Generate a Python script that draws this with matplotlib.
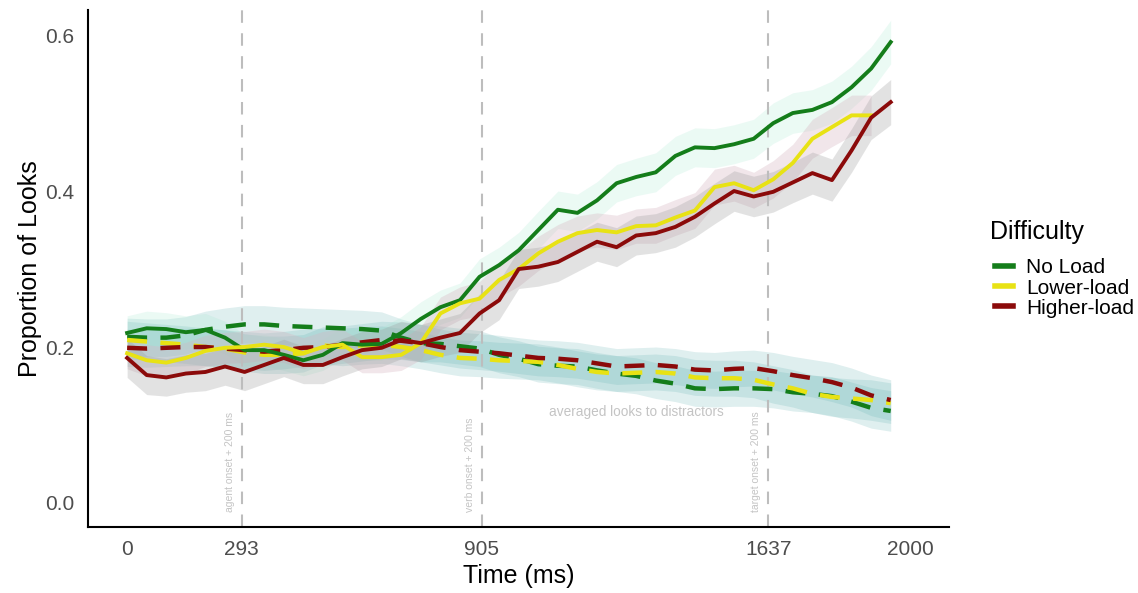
import numpy as np
import matplotlib
matplotlib.use("Agg")
import matplotlib.pyplot as plt
from matplotlib.lines import Line2D

plt.rcParams['font.family'] = ['Liberation Sans', 'DejaVu Sans']

# time bins (ms)
time = np.arange(0, 2000, 50)

# looks to target, per difficulty
target_noload = [0.218, 0.224, 0.223, 0.219, 0.222, 0.212, 0.196, 0.196, 0.190, 0.183,
                 0.190, 0.205, 0.203, 0.204, 0.218, 0.236, 0.251, 0.260, 0.290, 0.305,
                 0.324, 0.350, 0.376, 0.372, 0.388, 0.410, 0.418, 0.424, 0.445, 0.456,
                 0.455, 0.460, 0.467, 0.487, 0.500, 0.504, 0.514, 0.533, 0.557, 0.591]
target_lower = [0.192, 0.183, 0.180, 0.186, 0.195, 0.199, 0.200, 0.203, 0.200, 0.192,
                0.200, 0.203, 0.187, 0.187, 0.190, 0.205, 0.243, 0.256, 0.262, 0.286,
                0.300, 0.320, 0.335, 0.346, 0.350, 0.347, 0.355, 0.356, 0.366, 0.375,
                0.405, 0.410, 0.401, 0.415, 0.436, 0.467, 0.482, 0.497, 0.497, np.nan]
target_higher = [0.186, 0.164, 0.161, 0.166, 0.168, 0.175, 0.168, 0.177, 0.186, 0.177,
                 0.177, 0.187, 0.196, 0.199, 0.209, 0.205, 0.212, 0.218, 0.243, 0.260,
                 0.300, 0.303, 0.309, 0.322, 0.335, 0.328, 0.343, 0.346, 0.354, 0.367,
                 0.384, 0.400, 0.393, 0.399, 0.411, 0.423, 0.414, 0.452, 0.494, 0.514]

# averaged looks to distractors
distr_noload = [0.213, 0.212, 0.212, 0.215, 0.222, 0.226, 0.229, 0.229, 0.227, 0.226,
                0.225, 0.224, 0.223, 0.221, 0.212, 0.205, 0.204, 0.201, 0.198, 0.190,
                0.185, 0.178, 0.176, 0.175, 0.170, 0.166, 0.163, 0.157, 0.153, 0.147,
                0.146, 0.147, 0.147, 0.146, 0.142, 0.140, 0.137, 0.130, 0.122, 0.118]
distr_lower = [0.209, 0.207, 0.205, 0.203, 0.200, 0.198, 0.193, 0.190, 0.190, 0.192,
               0.202, 0.200, 0.202, 0.203, 0.200, 0.196, 0.190, 0.186, 0.185, 0.183,
               0.182, 0.181, 0.177, 0.172, 0.168, 0.166, 0.167, 0.168, 0.166, 0.161,
               0.160, 0.160, 0.158, 0.152, 0.147, 0.140, 0.136, 0.134, 0.132, 0.128]
distr_higher = [0.199, 0.198, 0.199, 0.200, 0.200, 0.198, 0.196, 0.194, 0.196, 0.199,
                0.200, 0.203, 0.206, 0.209, 0.208, 0.205, 0.200, 0.196, 0.194, 0.192,
                0.189, 0.186, 0.185, 0.183, 0.179, 0.175, 0.176, 0.177, 0.175, 0.171,
                0.170, 0.172, 0.173, 0.169, 0.164, 0.160, 0.155, 0.148, 0.138, 0.132]

# standard errors (ribbon half widths)
se_target_noload = [0.022, 0.022, 0.021, 0.021, 0.021, 0.021, 0.020, 0.020, 0.020, 0.020,
                    0.020, 0.020, 0.020, 0.021, 0.021, 0.022, 0.022, 0.022, 0.023, 0.023,
                    0.023, 0.024, 0.024, 0.024, 0.024, 0.024, 0.024, 0.025, 0.025, 0.025,
                    0.025, 0.025, 0.025, 0.026, 0.026, 0.026, 0.027, 0.027, 0.028, 0.028]
se_target_lower = [0.020, 0.020, 0.020, 0.020, 0.020, 0.020, 0.020, 0.020, 0.020, 0.020,
                   0.020, 0.020, 0.020, 0.020, 0.020, 0.021, 0.021, 0.021, 0.022, 0.022,
                   0.022, 0.022, 0.022, 0.022, 0.022, 0.022, 0.022, 0.023, 0.023, 0.023,
                   0.023, 0.023, 0.023, 0.024, 0.024, 0.025, 0.025, 0.026, 0.026, np.nan]
se_target_higher = [0.025, 0.025, 0.024, 0.024, 0.024, 0.024, 0.024, 0.024, 0.024, 0.024,
                    0.024, 0.024, 0.024, 0.024, 0.024, 0.024, 0.024, 0.025, 0.025, 0.025,
                    0.025, 0.025, 0.025, 0.025, 0.025, 0.025, 0.025, 0.025, 0.026, 0.026,
                    0.026, 0.026, 0.026, 0.026, 0.026, 0.027, 0.027, 0.028, 0.028, 0.029]
se_distr = [0.024, 0.024, 0.024, 0.024, 0.024, 0.024, 0.024, 0.024, 0.024, 0.024,
            0.024, 0.024, 0.024, 0.024, 0.024, 0.024, 0.023, 0.023, 0.023, 0.023,
            0.023, 0.023, 0.023, 0.023, 0.023, 0.023, 0.023, 0.023, 0.023, 0.023,
            0.023, 0.023, 0.023, 0.024, 0.024, 0.024, 0.025, 0.025, 0.026, 0.026]

labels = ['No Load', 'Lower-load', 'Higher-load']
colors = ['#147d1a', '#e8e214', '#8b0a0a']
ribbon_colors = ['#9fe6cc', '#d6b4c0', '#9a9a9a']
ribbon_alpha = [0.2, 0.33, 0.28]

onsets = [293, 905, 1637]
onset_labels = ['agent onset + 200 ms', 'verb onset + 200 ms', 'target onset + 200 ms']
xticks = [0, 293, 905, 1637, 2000]

targets = [target_noload, target_lower, target_higher]
target_se = [se_target_noload, se_target_lower, se_target_higher]
distractors = [distr_noload, distr_lower, distr_higher]

############################
fig = plt.figure(figsize=(11.38, 5.93), dpi=100)
ax = fig.add_axes([0.0773, 0.111, 0.757, 0.872])

# distractor ribbons
for d in distractors:
    d = np.array(d)
    ax.fill_between(time, d - np.array(se_distr), d + np.array(se_distr),
                    color='#5fb0b0', alpha=0.2, linewidth=0)

# target ribbons
for t, se, rc, ra in zip(targets, target_se, ribbon_colors, ribbon_alpha):
    t = np.array(t)
    se = np.array(se)
    ax.fill_between(time, t - se, t + se, color=rc, alpha=ra, linewidth=0)

# onset markers
for x, lab in zip(onsets, onset_labels):
    ax.axvline(x, color='#bdbdbd', linewidth=1.5, linestyle=(0, (6, 5)), zorder=1)
    ax.text(x - 30, -0.012, lab, rotation=90, ha='center', va='bottom',
            fontsize=7.5, color='#c4c4c4')

# distractor lines
for d, c in zip(distractors, colors):
    ax.plot(time, d, color=c, linewidth=3.2, linestyle=(0, (4.5, 3)), zorder=3)

# target lines
for t, c in zip(targets, colors):
    ax.plot(time, t, color=c, linewidth=2.8, zorder=4)

ax.text(1300, 0.117, 'averaged looks to distractors', ha='center', va='center',
        fontsize=9.8, color='#c4c4c4')

ax.set_xlim(-100, 2100)
ax.set_ylim(-0.031, 0.632)
ax.set_xticks(xticks)
ax.set_yticks([0.0, 0.2, 0.4, 0.6])
ax.set_yticklabels(['0.0', '0.2', '0.4', '0.6'])
ax.tick_params(length=0, labelsize=15, labelcolor='#4d4d4d')
ax.tick_params(axis='y', pad=10)
ax.tick_params(axis='x', pad=9)
ax.set_xlabel('Time (ms)', fontsize=18, labelpad=4)
ax.set_ylabel('Proportion of Looks', fontsize=18, labelpad=2)
for s in ['top', 'right']:
    ax.spines[s].set_visible(False)
for s in ['left', 'bottom']:
    ax.spines[s].set_linewidth(1.5)

# legend (title drawn separately to get the ggplot gap)
fig.text(990 / 1138, 1 - 232 / 593, 'Difficulty', fontsize=18, ha='left', va='center')
handles = [Line2D([0], [0], color=c, linewidth=4) for c in colors]
leg = fig.legend(handles, labels, loc='center left',
                 bbox_to_anchor=(0.874, 1 - 288 / 593), frameon=False, fontsize=15,
                 handlelength=0.9, handletextpad=0.6, labelspacing=0.05,
                 borderaxespad=0, borderpad=0)

fig.savefig('out.png', dpi=100)
